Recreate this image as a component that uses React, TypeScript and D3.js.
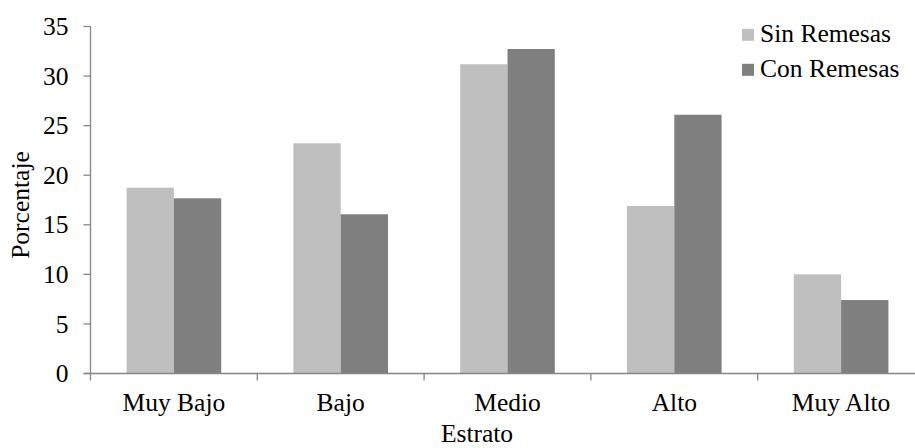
import React from "react";
import * as d3 from "d3";

const categories = ["Muy Bajo", "Bajo", "Medio", "Alto", "Muy Alto"];
const seriesNames = ["Sin Remesas", "Con Remesas"];
const sinRemesas = [18.74, 23.22, 31.19, 16.9, 10.0];
const conRemesas = [17.67, 16.06, 32.73, 26.1, 7.41];
const yTicks = [0, 5, 10, 15, 20, 25, 30, 35];
const colors = ["#bfbfbf", "#7f7f7f"];

const W = 915;
const H = 448;
const FONT = "'Liberation Serif', 'Times New Roman', 'DejaVu Serif', serif";
const AXIS = "#868686";
const txt: React.CSSProperties = { fontFamily: FONT, fontSize: "25.5px" };

export default function App() {
  const left = 90.5;
  const step = 166.8;
  const x0 = d3
    .scaleBand<string>()
    .domain(categories)
    .range([left, left + step * categories.length])
    .padding(0);
  const x1 = d3
    .scaleBand<string>()
    .domain(seriesNames)
    .range([0, x0.bandwidth()])
    .paddingInner(0)
    .paddingOuter(0.763);
  const y = d3.scaleLinear().domain([0, 35]).range([373.5, 26.5]);
  const values = [sinRemesas, conRemesas];

  return (
    <svg
      width={W}
      height={H}
      style={{ position: "absolute", left: 0, top: 0, display: "block", background: "#fff" }}
    >
      <rect x={0} y={0} width={W} height={H} fill="#fff" />
      {categories.map((c, i) => (
        <g key={c}>
          {seriesNames.map((s, j) => (
            <rect
              key={s}
              x={(x0(c) as number) + (x1(s) as number)}
              y={y(values[j][i])}
              width={x1.bandwidth()}
              height={y(0) - y(values[j][i])}
              fill={colors[j]}
            />
          ))}
        </g>
      ))}
      <line x1={left} x2={left} y1={y(35)} y2={y(0)} stroke={AXIS} strokeWidth={1.3} />
      {yTicks.map((t) => (
        <g key={t}>
          <line x1={left - 7} x2={left} y1={y(t)} y2={y(t)} stroke={AXIS} strokeWidth={1.3} />
          <text x={68.5} y={y(t)} dy="0.34em" textAnchor="end" style={txt} fill="#000">
            {t}
          </text>
        </g>
      ))}
      <line x1={left - 7} x2={left + step * categories.length} y1={y(0)} y2={y(0)} stroke={AXIS} strokeWidth={1.3} />
      {categories.map((c) => (
        <line
          key={"t" + c}
          x1={x0(c) as number}
          x2={x0(c) as number}
          y1={y(0)}
          y2={y(0) + 7}
          stroke={AXIS}
          strokeWidth={1.3}
        />
      ))}
      {categories.map((c) => (
        <text
          key={"l" + c}
          x={(x0(c) as number) + x0.bandwidth() / 2}
          y={411}
          textAnchor="middle"
          style={txt}
          fill="#000"
        >
          {c}
        </text>
      ))}
      <text x={477} y={442} textAnchor="middle" style={txt} fill="#000">
        Estrato
      </text>
      <text transform={`translate(28.5,205) rotate(-90)`} textAnchor="middle" style={txt} fill="#000">
        Porcentaje
      </text>
      {seriesNames.map((s, j) => (
        <g key={"lg" + s} transform={`translate(742,${42.3 + j * 35})`}>
          <rect x={0} y={-13.5} width={12} height={12} fill={colors[j]} />
          <text x={18} y={0} style={txt} fill="#000">
            {s}
          </text>
        </g>
      ))}
    </svg>
  );
}
